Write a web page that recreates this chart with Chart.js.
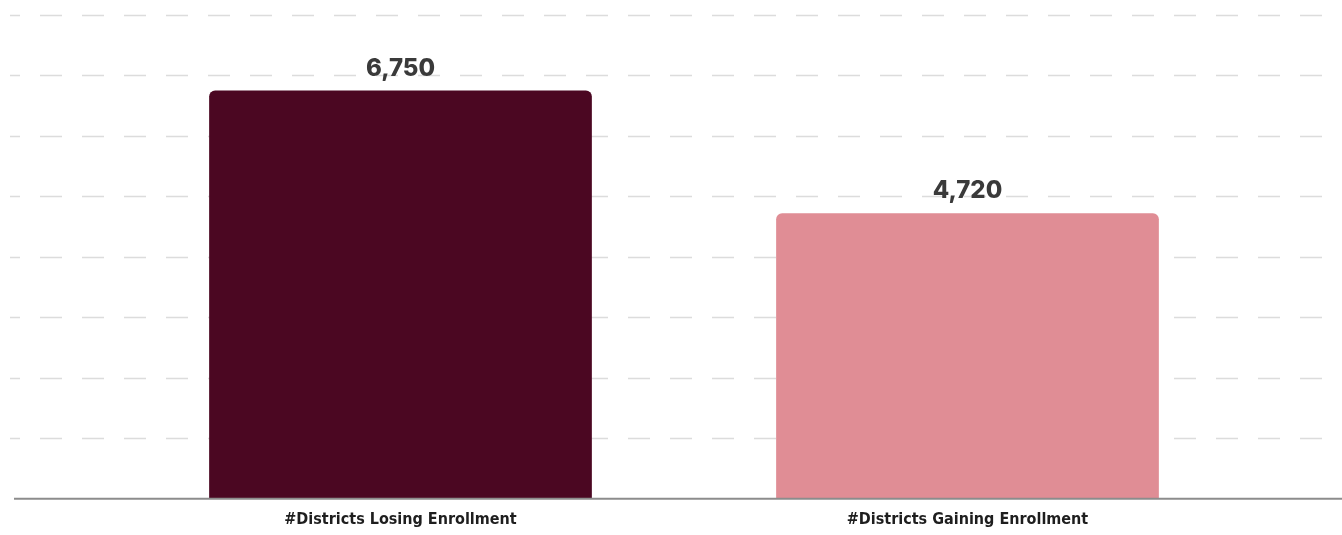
<!DOCTYPE html>
<html>
<head>
<meta charset="utf-8">
<script src="https://cdn.jsdelivr.net/npm/chart.js@4/dist/chart.umd.min.js"></script>
<style>
  html, body { margin: 0; padding: 0; background: #fff; }
  #wrap { width: 1342px; height: 535px; }
</style>
</head>
<body>
<div id="wrap"><canvas id="enrollChart"></canvas></div>
<script>
// enrollment change by district
const categories = ['#Districts Losing Enrollment', '#Districts Gaining Enrollment'];
const districtCounts = [6750, 4720];
const barColors = ['#4b0722', '#e08d95'];

// dashed horizontal guides across the full canvas width, from the y scale ticks
const dashedGrid = {
  id: 'dashedGrid',
  beforeDatasetsDraw(chart) {
    const ctx = chart.ctx;
    const y = chart.scales.y;
    ctx.save();
    ctx.strokeStyle = '#dcdcdc';
    ctx.lineWidth = 1.5;
    ctx.setLineDash([22, 20]);
    ctx.lineDashOffset = 12;
    y.ticks.forEach((t) => {
      if (t.value === 0) return;
      const py = Math.round(y.getPixelForValue(t.value)) + 0.5;
      ctx.beginPath();
      ctx.moveTo(10, py);
      ctx.lineTo(chart.width, py);
      ctx.stroke();
    });
    ctx.restore();
  },
  afterDatasetsDraw(chart) {
    const ctx = chart.ctx;
    const y = chart.scales.y;
    const base = y.getPixelForValue(0);
    ctx.save();
    // baseline
    ctx.strokeStyle = '#8c8c8c';
    ctx.lineWidth = 2;
    ctx.beginPath();
    ctx.moveTo(14, base);
    ctx.lineTo(chart.width, base);
    ctx.stroke();
    // value labels above bars
    ctx.fillStyle = '#3a3a3a';
    ctx.font = '800 24px Inter, "Open Sans", sans-serif';
    ctx.textAlign = 'center';
    ctx.textBaseline = 'alphabetic';
    chart.getDatasetMeta(0).data.forEach((bar, i) => {
      ctx.fillText(districtCounts[i].toLocaleString('en-US'), bar.x, bar.y - 15);
    });
    ctx.restore();
  }
};

new Chart(document.getElementById('enrollChart'), {
  type: 'bar',
  data: {
    labels: categories,
    datasets: [{
      data: districtCounts,
      backgroundColor: barColors,
      borderRadius: { topLeft: 6, topRight: 6 },
      borderSkipped: 'bottom',
      categoryPercentage: 1,
      barPercentage: 0.675
    }]
  },
  options: {
    responsive: true,
    maintainAspectRatio: false,
    animation: false,
    layout: { padding: { left: 117, right: 91, top: 15, bottom: -5 } },
    plugins: { legend: { display: false }, tooltip: { enabled: false } },
    scales: {
      x: {
        grid: { display: false, drawTicks: false },
        border: { display: false },
        ticks: {
          padding: 11,
          color: '#1e1e1e',
          font: { family: '"Liberation Sans Narrow", "DejaVu Sans Condensed", sans-serif', weight: 'bold', size: 16 }
        }
      },
      y: {
        display: false,
        min: 0,
        max: 8000,
        ticks: { stepSize: 1000 }
      }
    }
  },
  plugins: [dashedGrid]
});
</script>
</body>
</html>
